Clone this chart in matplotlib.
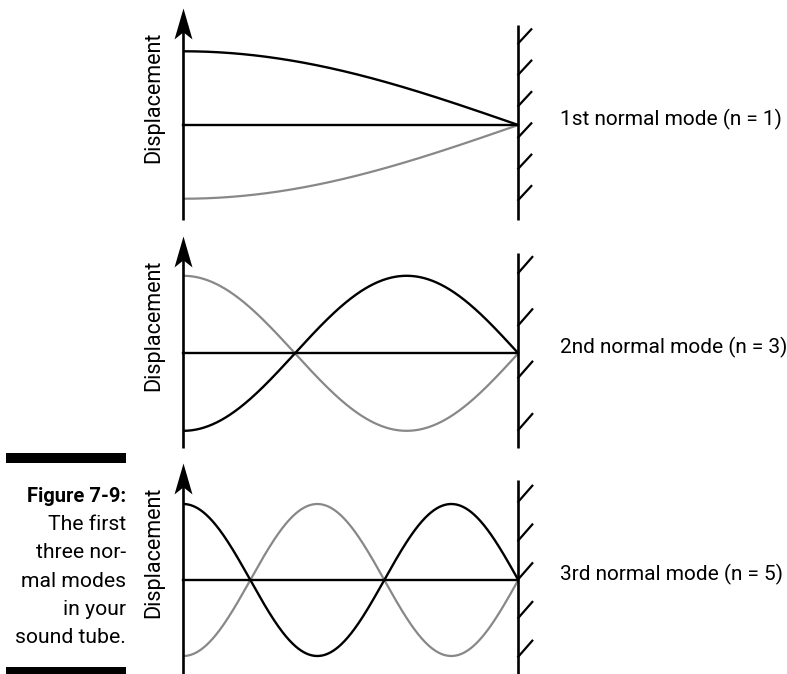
"""Figure 7-9: first three normal modes of a sound tube closed at one end."""
import numpy as np
import matplotlib
matplotlib.use("Agg")
import matplotlib.pyplot as plt
from matplotlib.patches import Rectangle
from matplotlib.path import Path

plt.rcParams["font.family"] = ["Roboto", "DejaVu Sans"]

# ---- data ----
MODES = [1, 3, 5]                      # harmonic number n
ORDINALS = ["1st", "2nd", "3rd"]
BLACK_SIGN = [1, -1, 1]                # black curve starts up / down at the open end
AMPLITUDE = [0.97, 1.02, 1.0]          # relative displacement amplitude
WALL_TICK_COUNT = [6, 4, 5]
CAPTION_TITLE = "Figure 7-9:"
CAPTION_LINES = ["The first", "three nor-", "mal modes", "in your", "sound tube."]

# ---- layout (pixels of the 787x674 output) ----
W, H = 787, 674
X0, X1 = 183.3, 518.3                  # open end axis, closed-end wall
CENTERS = [125, 353.3, 580]
PX = 76.0                              # pixels per displacement unit
YLO, YHI = -95 / PX, 117 / PX
WALL_TOP = [1.316, 1.32, 1.31]
TICK_RANGE = [(1.075, -0.987), (1.057, -1.009), (1.03, -1.009)]
GRAY = "#888888"

fig = plt.figure(figsize=(W / 100, H / 100), dpi=100)
head = Path([(0, 0), (-0.29, -1), (0, -0.77), (0.29, -1), (0, 0)],
            [Path.MOVETO, Path.LINETO, Path.LINETO, Path.LINETO, Path.CLOSEPOLY])

x = np.linspace(0, 1, 400)
for i, n in enumerate(MODES):
    c = CENTERS[i]
    ax = fig.add_axes([X0 / W, 1 - (c - YLO * PX) / H, (X1 - X0) / W, (YHI - YLO) * PX / H])
    ax.set_xlim(0, 1); ax.set_ylim(YLO, YHI); ax.axis("off")
    y = AMPLITUDE[i] * np.cos(n * np.pi * x / 2)
    ax.plot(x, -BLACK_SIGN[i] * y, color=GRAY, lw=1.6, clip_on=False, solid_capstyle="butt")
    ax.plot(x, BLACK_SIGN[i] * y, color="black", lw=1.7, clip_on=False, solid_capstyle="butt")
    ax.plot([0, 1], [0, 0], color="black", lw=1.7, clip_on=False)
    # displacement axis with arrow head
    ax.plot([0, 0], [YLO, YHI - 0.3], color="black", lw=1.9, clip_on=False, solid_capstyle="butt")
    ax.plot([0], [YHI], marker=head, ms=44.6, color="black", mew=0, clip_on=False)
    # closed end: wall with hatch ticks
    ax.plot([1, 1], [YLO, WALL_TOP[i]], color="black", lw=1.9, clip_on=False, solid_capstyle="butt")
    dx, dy = (13 if i == 0 else 14) / (X1 - X0), (14 if i == 0 else 16) / PX
    for t in np.linspace(*TICK_RANGE[i], WALL_TICK_COUNT[i]):
        ax.plot([1, 1 + dx], [t, t + dy], color="black", lw=1.6, clip_on=False)
    ax.annotate("Displacement", xy=(0, 28 / PX), xytext=(-21, 0), textcoords="offset points",
                rotation=90, ha="center", va="center", fontsize=15.5, annotation_clip=False)
    ax.annotate(f"{ORDINALS[i]} normal mode (n = {n})", xy=(1, 0), xytext=(30, 0),
                textcoords="offset points", ha="left", va="baseline", fontsize=15,
                annotation_clip=False)

# ---- caption block on the left ----
fig.patches.append(Rectangle((6 / W, 1 - 463 / H), 120 / W, 10 / H, transform=fig.transFigure,
                             color="black", lw=0))
fig.patches.append(Rectangle((6 / W, 1 - 677 / H), 120 / W, 10 / H, transform=fig.transFigure,
                             color="black", lw=0))
fig.text(126 / W, 1 - 502 / H, CAPTION_TITLE, ha="right", va="baseline", fontsize=14.5,
         fontweight="bold")
for k, line in enumerate(CAPTION_LINES):
    fig.text(126 / W, 1 - (530 + k * 28.3) / H, line, ha="right", va="baseline", fontsize=15.2)

fig.savefig("out.png", dpi=100)
